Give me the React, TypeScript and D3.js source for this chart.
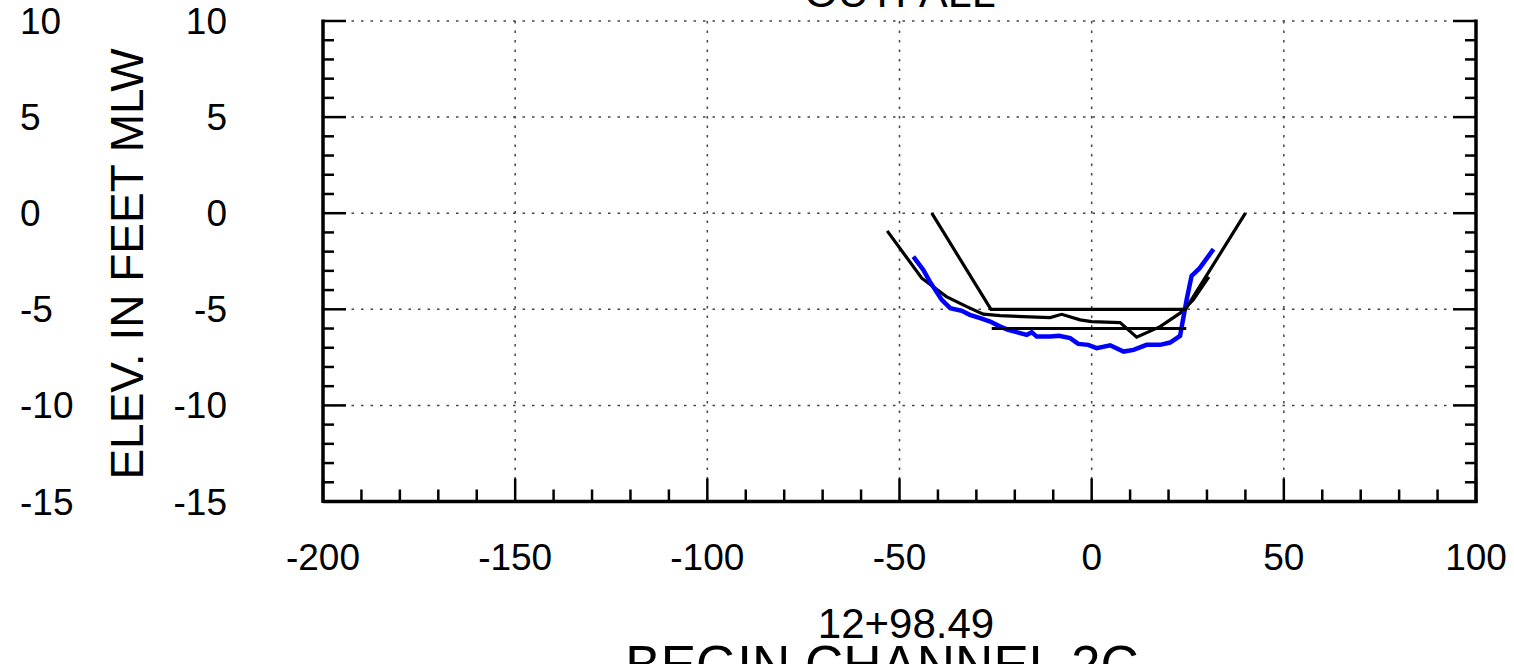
import React from "react";
import * as d3 from "d3";

const xTicks = [-200, -150, -100, -50, 0, 50, 100];
const yTicks = [10, 5, 0, -5, -10, -15];

// Design template
const templateX = [-41.6, -26.2, 24.4, 40.0];
const templateY = [0, -5, -5, 0];

// Overdepth line
const overdepthX = [-26.0, 24.6];
const overdepthY = [-6, -6];

// Previous survey (black)
const prevX = [-53.2, -44.2, -37.8, -32.5, -28.2, -23.8, -14.3, -10.8, -7.8, -3.0, 0.0, 7.4, 11.7, 17.8, 23.0, 26.4, 30.5];
const prevY = [-0.92, -3.38, -4.34, -4.86, -5.25, -5.33, -5.41, -5.43, -5.26, -5.55, -5.64, -5.69, -6.45, -5.9, -5.2, -4.51, -3.31];

// Current survey (blue)
const curX = [-46.4, -43.8, -42.1, -39.0, -36.8, -33.8, -31.7, -29.0, -26.4, -23.8, -21.7, -18.6, -16.9, -15.6, -14.3, -10.8, -8.5, -5.6, -3.5, -0.9, 1.3, 4.8, 8.3, 10.9, 14.3, 17.8, 20.4, 23.0, 24.7, 26.0, 28.1, 31.7];
const curY = [-2.26, -2.95, -3.56, -4.51, -4.94, -5.08, -5.29, -5.46, -5.64, -5.9, -6.07, -6.24, -6.33, -6.19, -6.42, -6.42, -6.38, -6.5, -6.8, -6.85, -7.02, -6.87, -7.2, -7.11, -6.85, -6.85, -6.73, -6.38, -4.51, -3.26, -2.86, -1.87];

const FONT = "'Liberation Sans', Arial, sans-serif";

export default function App() {
  const W = 1514, H = 664;
  const x = d3.scaleLinear().domain([-200, 100]).range([323, 1476]);
  const y = d3.scaleLinear().domain([-15, 10]).range([501.5, 21]);
  const line = d3.line<[number, number]>().x(d => x(d[0])).y(d => y(d[1]));
  const zip = (a: number[], b: number[]) => a.map((v, i) => [v, b[i]] as [number, number]);

  const xMinor = d3.range(-200, 101, 10);
  const yMinor = d3.range(-15, 10.01, 1);
  const [x0, x1] = x.range();
  const [y0, y1] = y.range();

  return (
    <svg width={W} height={H} style={{ position: "fixed", left: 0, top: 0, background: "#fff" }} fontFamily={FONT}>
      {/* grid */}
      {yTicks.filter(t => t > -15).map(t => (
        <line key={"gy" + t} x1={x0} x2={x1} y1={y(t)} y2={y(t)} stroke="#444" strokeWidth={1.5} strokeDasharray="2.5,7" />
      ))}
      {xTicks.filter(t => t > -200 && t < 100).map(t => (
        <line key={"gx" + t} x1={x(t)} x2={x(t)} y1={y1} y2={y0} stroke="#444" strokeWidth={1.5} strokeDasharray="2.5,7" />
      ))}
      {/* axes */}
      <line x1={x0} x2={x0} y1={y1 - 1.5} y2={y0 + 1.5} stroke="#000" strokeWidth={3.5} />
      <line x1={x1} x2={x1} y1={y1 - 1.5} y2={y0 + 1.5} stroke="#000" strokeWidth={3.5} />
      <line x1={x0} x2={x1 + 1.5} y1={y0} y2={y0} stroke="#000" strokeWidth={3.5} />
      {yMinor.map(t => {
        const major = Math.abs(t % 5) < 1e-6;
        const len = major ? 23 : 11;
        return (
          <g key={"yt" + t}>
            <line x1={x0} x2={x0 + len} y1={y(t)} y2={y(t)} stroke="#000" strokeWidth={2.5} />
            <line x1={x1} x2={x1 - len} y1={y(t)} y2={y(t)} stroke="#000" strokeWidth={2.5} />
          </g>
        );
      })}
      {xMinor.map(t => {
        const major = Math.abs(t % 50) < 1e-6;
        const len = major ? 23 : 12;
        return <line key={"xt" + t} x1={x(t)} x2={x(t)} y1={y0} y2={y0 - len} stroke="#000" strokeWidth={2.5} />;
      })}
      {/* tick labels */}
      {xTicks.map(t => (
        <text key={"xl" + t} x={x(t)} y={570} fontSize={37} textAnchor="middle">{t}</text>
      ))}
      {yTicks.map(t => (
        <g key={"yl" + t}>
          <text x={20} y={y(t) + 13} fontSize={37} textAnchor="start">{t}</text>
          <text x={227} y={y(t) + 13} fontSize={37} textAnchor="end">{t}</text>
        </g>
      ))}
      {/* titles */}
      <text x={900} y={7} fontSize={43} textAnchor="middle">OUTFALL</text>
      <text x={906} y={638} fontSize={42} textAnchor="middle">12+98.49</text>
      <text x={882} y={683} fontSize={53} textAnchor="middle">BEGIN CHANNEL 2C</text>
      <text transform="translate(143,264) rotate(-90)" fontSize={46} textAnchor="middle">ELEV. IN FEET MLW</text>
      {/* data */}
      <path d={line(zip(prevX, prevY)) || ""} fill="none" stroke="#000" strokeWidth={3.2} />
      <path d={line(zip(curX, curY)) || ""} fill="none" stroke="#0000ff" strokeWidth={4.5} />
      <path d={line(zip(templateX, templateY)) || ""} fill="none" stroke="#000" strokeWidth={3.2} />
      <path d={line(zip(overdepthX, overdepthY)) || ""} fill="none" stroke="#000" strokeWidth={3.2} />
    </svg>
  );
}
